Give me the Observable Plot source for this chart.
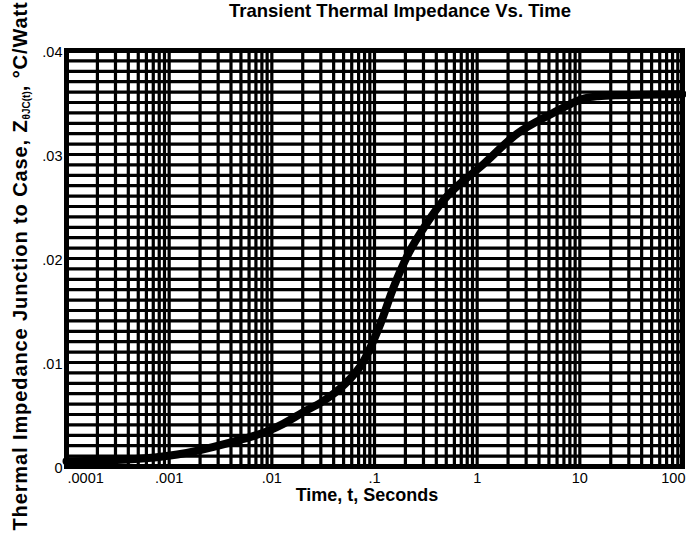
<!DOCTYPE html>
<html>
<head>
<meta charset="utf-8">
<script src="https://cdn.jsdelivr.net/npm/d3@7"></script>
<script src="https://cdn.jsdelivr.net/npm/@observablehq/plot@0.6"></script>
<style>
  html, body { margin: 0; padding: 0; background: #fff; }
  #chart { width: 686px; height: 534px; overflow: hidden; }
</style>
</head>
<body>
<div id="chart"></div>
<script>
// Data
const times = [0.0001, 0.0004, 0.0012, 0.0039, 0.0096, 0.0129, 0.02, 0.0318, 0.0498, 0.078, 0.114, 0.153, 0.215, 0.3, 0.47, 1.16, 2.45, 5.26, 8.26, 11.1, 15, 23.5, 100];
const impedance = [0.0005, 0.00067, 0.00115, 0.0023, 0.0035, 0.0041, 0.0052, 0.0063, 0.0078, 0.0101, 0.0137, 0.0172, 0.0205, 0.0229, 0.0256, 0.0291, 0.032, 0.0339, 0.0349, 0.0354, 0.0356, 0.0357, 0.0358];

const xTickValues = [0.0001, 0.001, 0.01, 0.1, 1, 10, 100];
const xTickLabels = [".0001", ".001", ".01", ".1", "1", "10", "100"];
const yTickValues = [0, 0.01, 0.02, 0.03, 0.04];
const yTickLabels = ["0", ".01", ".02", ".03", ".04"];

const titleText = "Transient Thermal Impedance Vs. Time";
const xLabelText = "Time, t, Seconds";
const yLabelMain = "Thermal Impedance Junction to Case, Z";
const yLabelSub = "θJC(t)";
const yLabelEnd = ", °C/Watt";

const curveData = times.map((t, i) => ({t, z: impedance[i]}));

// grid positions (log minor lines and 0.001 steps)
const xGrid = [];
for (let e = -4; e <= 1; e++) for (let m = 1; m <= 9; m++) xGrid.push(m * Math.pow(10, e));
xGrid.push(100);
const yGrid = d3.range(0, 41).map(i => i / 1000);

const xLabelMap = new Map(xTickValues.map((v, i) => [v, xTickLabels[i]]));
const yLabelMap = new Map(yTickValues.map((v, i) => [v, yTickLabels[i]]));
const n = xTickValues.length;

const svg = Plot.plot({
  width: 686,
  height: 534,
  marginTop: 50,
  marginBottom: 68,
  marginLeft: 66,
  marginRight: 4,
  style: {fontFamily: "'Liberation Sans', Arial, sans-serif", background: "#fff", color: "#000"},
  x: {type: "log", domain: [0.0001, 100], axis: null},
  y: {domain: [0, 0.04], axis: null},
  marks: [
    Plot.ruleY(yGrid, {y: d => d, stroke: "#000", strokeWidth: 3.2}),
    Plot.ruleX(xGrid, {x: d => d, stroke: "#000", strokeWidth: 3.2}),
    Plot.frame({stroke: "#000", strokeWidth: 5}),
    Plot.line(curveData, {x: "t", y: "z", stroke: "#000", strokeWidth: 8, curve: "monotone-x", strokeLinecap: "round"}),
    Plot.text([xTickValues[0]], {x: d => d, frameAnchor: "bottom", dy: 16, text: d => xLabelMap.get(d), textAnchor: "start", dx: 1, fontSize: 14.5, fill: "#000"}),
    Plot.text(xTickValues.slice(1, n - 1), {x: d => d, frameAnchor: "bottom", dy: 16, text: d => xLabelMap.get(d), fontSize: 14.5, fill: "#000"}),
    Plot.text([xTickValues[n - 1]], {x: d => d, frameAnchor: "bottom", dy: 16, text: d => xLabelMap.get(d), textAnchor: "end", dx: 3, fontSize: 14.5, fill: "#000"}),
    Plot.text(yTickValues, {y: d => d, frameAnchor: "left", dx: -4, dy: 2, text: d => yLabelMap.get(d), textAnchor: "end", fontSize: 14.5, fill: "#000"})
  ]
});

const s = d3.select(svg);
s.append("text")
  .attr("x", 400).attr("y", 17)
  .attr("text-anchor", "middle")
  .attr("font-size", 18.5).attr("font-weight", "bold")
  .attr("fill", "#000")
  .text(titleText);

s.append("text")
  .attr("x", 367).attr("y", 501)
  .attr("text-anchor", "middle")
  .attr("font-size", 18).attr("font-weight", "bold")
  .attr("fill", "#000")
  .text(xLabelText);

const yl = s.append("text")
  .attr("transform", "translate(27,266) rotate(-90)")
  .attr("text-anchor", "middle")
  .attr("font-size", 20).attr("font-weight", "bold")
  .attr("letter-spacing", 0.9)
  .attr("fill", "#000");
yl.append("tspan").text(yLabelMain);
yl.append("tspan").attr("font-size", 10).attr("dy", 3).attr("letter-spacing", 0).text(yLabelSub);
yl.append("tspan").attr("dy", -3).text(yLabelEnd);

document.getElementById("chart").appendChild(svg);
</script>
</body>
</html>
